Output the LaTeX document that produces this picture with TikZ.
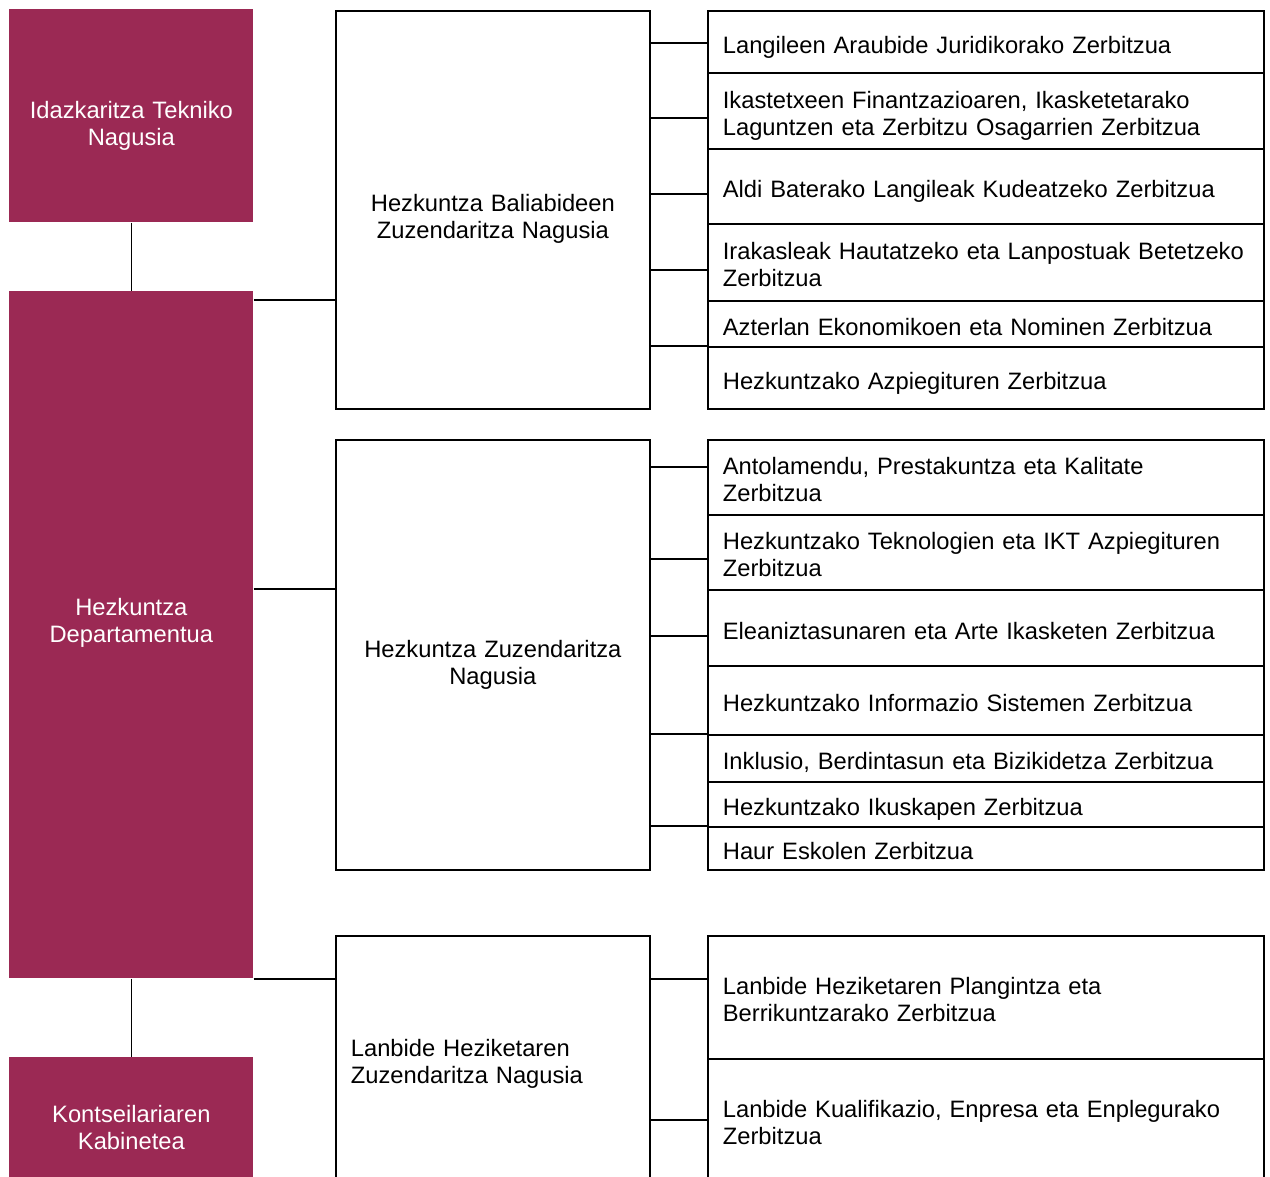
\documentclass[tikz,border=0pt]{standalone}
\usepackage{fontspec}
\setmainfont{Liberation Sans}

\definecolor{deptred}{RGB}{155,41,84}
\newcommand{\pu}{0.2mm}

\tikzset{
  deptbox/.style={fill=deptred, text=white, anchor=north west,
    minimum width=244*\pu, text width=224*\pu, align=center, inner sep=0pt},
  zuzbox/.style={draw, line width=1pt, anchor=north west,
    text width=284*\pu, inner xsep=15*\pu, inner ysep=2pt, align=center},
  svcbox/.style={draw, line width=1pt, anchor=north west,
    text width=526*\pu, inner xsep=15*\pu, inner ysep=2pt, align=left},
  oneline/.style={text height=13pt, text depth=0pt},
  twoline/.style={text height=0pt, text depth=2.8pt},
  link/.style={line width=1pt}
}

\begin{document}
\begin{tikzpicture}[x=\pu,y=-\pu,font=\fontsize{13.5}{15.3}\selectfont]

\useasboundingbox (0,0) rectangle (1270,1176);
\clip (0,0) rectangle (1270,1176);

% Department column
\node[deptbox, minimum height=213*\pu, text height=2.8pt, text depth=0pt] (itn) at (9,9) {Idazkaritza Tekniko\\Nagusia};
\node[deptbox, minimum height=687*\pu, text height=0pt, text depth=22.2pt] (dep) at (9,291) {Hezkuntza\\Departamentua};
\node[deptbox, minimum height=142*\pu, text height=0pt, text depth=6.8pt] (kab) at (9,1057) {Kontseilariaren\\Kabinetea};

\draw[line width=0.6pt] (itn.south) -- (dep.north);
\draw[line width=0.6pt] (dep.south) -- (kab.north);

% Directorates
\node[zuzbox, minimum height=398*\pu, text height=2.3pt, text depth=0pt] (hbzn) at (335,10) {Hezkuntza Baliabideen\\Zuzendaritza Nagusia};
\node[zuzbox, minimum height=430*\pu, text height=3.4pt, text depth=0pt] (hzn) at (335,439) {Hezkuntza Zuzendaritza\\Nagusia};
\node[zuzbox, align=left, minimum height=254*\pu, text height=0pt, text depth=6.8pt] (lhzn) at (335,935) {Lanbide Heziketaren\\Zuzendaritza Nagusia};

\draw[link] (dep.east |- 0,300) -- (hbzn.west |- 0,300);
\draw[link] (dep.east |- 0,589) -- (hzn.west |- 0,589);
\draw[link] (dep.east |- 0,979) -- (lhzn.west |- 0,979);

% Services: Hezkuntza Baliabideen Zuzendaritza Nagusia
\node[svcbox, oneline, minimum height=62*\pu] (r1) at (707,10) {Langileen Araubide Juridikorako Zerbitzua};
\node[svcbox, twoline, minimum height=76*\pu] (r2) at (707,72) {Ikastetxeen Finantzazioaren, Ikasketetarako\\Laguntzen eta Zerbitzu Osagarrien Zerbitzua};
\node[svcbox, oneline, minimum height=75*\pu] (r3) at (707,148) {Aldi Baterako Langileak Kudeatzeko Zerbitzua};
\node[svcbox, twoline, minimum height=77*\pu] (r4) at (707,223) {Irakasleak Hautatzeko eta Lanpostuak Betetzeko\\Zerbitzua};
\node[svcbox, oneline, minimum height=46*\pu] (r5) at (707,300) {Azterlan Ekonomikoen eta Nominen Zerbitzua};
\node[svcbox, oneline, minimum height=62*\pu] (r6) at (707,346) {Hezkuntzako Azpiegituren Zerbitzua};

\foreach \r/\y in {r1/43, r2/118, r3/194, r4/270, r6/346}
  \draw[link] (hbzn.east |- 0,\y) -- (\r.west |- 0,\y);

% Services: Hezkuntza Zuzendaritza Nagusia
\node[svcbox, twoline, minimum height=75*\pu] (s1) at (707,439) {Antolamendu, Prestakuntza eta Kalitate\\Zerbitzua};
\node[svcbox, twoline, minimum height=75*\pu] (s2) at (707,514) {Hezkuntzako Teknologien eta IKT Azpiegituren\\Zerbitzua};
\node[svcbox, oneline, minimum height=76*\pu] (s3) at (707,589) {Eleaniztasunaren eta Arte Ikasketen Zerbitzua};
\node[svcbox, oneline, minimum height=69*\pu] (s4) at (707,665) {Hezkuntzako Informazio Sistemen Zerbitzua};
\node[svcbox, oneline, minimum height=47*\pu] (s5) at (707,734) {Inklusio, Berdintasun eta Bizikidetza Zerbitzua};
\node[svcbox, oneline, minimum height=45*\pu] (s6) at (707,781) {Hezkuntzako Ikuskapen Zerbitzua};
\node[svcbox, oneline, minimum height=43*\pu] (s7) at (707,826) {Haur Eskolen Zerbitzua};

\foreach \r/\y in {s1/467, s2/559, s3/636, s5/734, s7/826}
  \draw[link] (hzn.east |- 0,\y) -- (\r.west |- 0,\y);

% Services: Lanbide Heziketaren Zuzendaritza Nagusia
\node[svcbox, twoline, minimum height=123*\pu] (t1) at (707,935) {Lanbide Heziketaren Plangintza eta\\Berrikuntzarako Zerbitzua};
\node[svcbox, twoline, minimum height=123*\pu] (t2) at (707,1058) {Lanbide Kualifikazio, Enpresa eta Enplegurako\\Zerbitzua};

\foreach \r/\y in {t1/979, t2/1120}
  \draw[link] (lhzn.east |- 0,\y) -- (\r.west |- 0,\y);

\end{tikzpicture}
\end{document}
